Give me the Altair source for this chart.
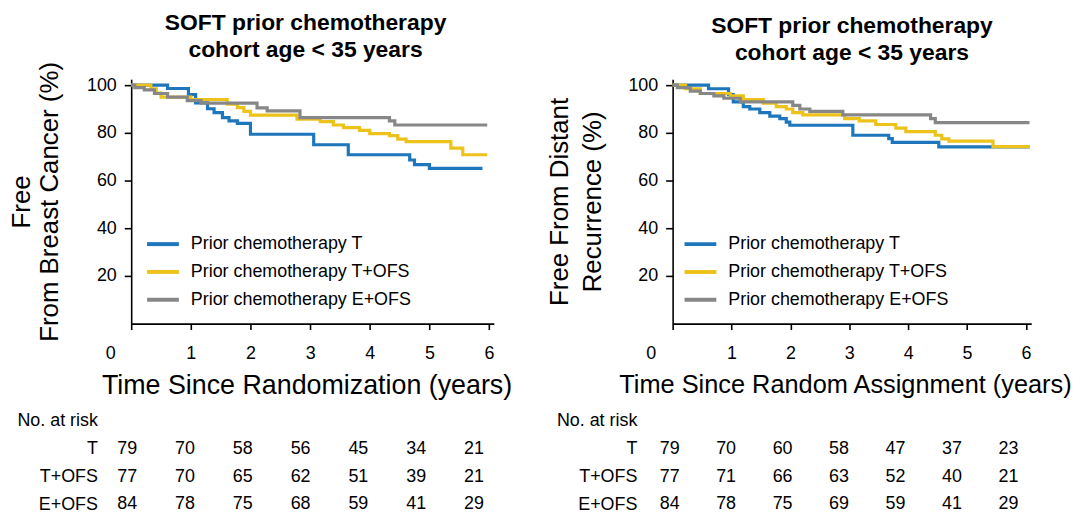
import altair as alt
import pandas as pd

FONT = "Liberation Sans, Arial, sans-serif"

GROUPS = ["Prior chemotherapy T", "Prior chemotherapy T+OFS", "Prior chemotherapy E+OFS"]
COLORS = ["#1e76bd", "#ecc21b", "#878787"]
ROWS = ["No. at risk", "T", "T+OFS", "E+OFS"]
ROW_KEYS = ["T", "T+OFS", "E+OFS"]
RISK_TIMES = [0, 1, 2, 3, 4, 5, 6]
TITLE_LINES = ["SOFT prior chemotherapy", "cohort age < 35 years"]

# ---- Left panel: free from breast cancer ----
bc_t_time = [0, 0.61, 0.96, 1.08, 1.28, 1.39, 1.53, 1.64, 1.78, 2.0, 3.06, 3.64, 4.67, 4.75, 5.0, 5.89]
bc_t_surv = [100, 98.6, 96.0, 92.6, 90.1, 88.5, 86.4, 85.0, 84.0, 79.4, 75.0, 70.8, 68.6, 66.7, 65.1, 65.1]
bc_tofs_time = [0, 0.33, 0.42, 0.5, 1.0, 1.61, 1.78, 1.89, 2.0, 2.78, 3.17, 3.39, 3.56, 3.83, 4.0, 4.33, 4.47, 4.61, 5.36, 5.56, 5.97]
bc_tofs_surv = [100, 98.5, 96.7, 95.0, 94.0, 92.0, 90.6, 89.0, 87.4, 85.7, 84.7, 83.3, 82.2, 81.0, 79.7, 78.8, 77.4, 76.3, 73.6, 70.8, 70.8]
bc_eofs_time = [0, 0.06, 0.22, 0.39, 0.61, 0.94, 1.17, 2.11, 2.28, 2.83, 4.33, 4.42, 5.97]
bc_eofs_surv = [100, 99.0, 98.0, 96.5, 95.0, 93.5, 92.5, 90.5, 89.2, 86.4, 85.0, 83.3, 83.3]
bc_risk = {
    "T": [79, 70, 58, 56, 45, 34, 21],
    "T+OFS": [77, 70, 65, 62, 51, 39, 21],
    "E+OFS": [84, 78, 75, 68, 59, 41, 29],
}

# ---- Right panel: free from distant recurrence ----
dr_t_time = [0, 0.61, 0.95, 1.03, 1.2, 1.31, 1.48, 1.65, 1.82, 1.93, 1.99, 3.06, 3.67, 3.73, 4.52, 6.06]
dr_t_surv = [100, 98.5, 96.0, 93.0, 91.0, 90.0, 88.5, 87.0, 86.0, 84.5, 83.2, 79.0, 77.6, 76.0, 74.1, 74.1]
dr_tofs_time = [0, 0.22, 0.47, 0.98, 1.2, 1.54, 1.76, 1.93, 2.04, 2.21, 2.92, 3.17, 3.45, 3.79, 3.96, 4.46, 4.57, 4.69, 5.44, 6.06]
dr_tofs_surv = [100, 98.5, 96.5, 95.5, 94.0, 92.5, 91.0, 90.0, 88.5, 87.5, 86.0, 85.0, 83.5, 82.0, 80.5, 79.0, 77.5, 76.5, 74.2, 74.2]
dr_eofs_time = [0, 0.08, 0.3, 0.47, 0.7, 0.87, 1.15, 2.04, 2.16, 2.33, 2.89, 4.38, 4.46, 6.06]
dr_eofs_surv = [100, 99.0, 97.5, 96.5, 95.5, 94.5, 93.0, 91.5, 90.0, 89.0, 87.5, 86.0, 84.3, 84.3]
dr_risk = {
    "T": [79, 70, 60, 58, 47, 37, 23],
    "T+OFS": [77, 71, 66, 63, 52, 40, 21],
    "E+OFS": [84, 78, 75, 69, 59, 41, 29],
}


def km_frame(series):
    rows = []
    for group, times, survs in series:
        for t, s in zip(times, survs):
            rows.append({"group": group, "time": t, "surv": s})
    return pd.DataFrame(rows)


def risk_frame(risk):
    rows = []
    for key in ROW_KEYS:
        for t, n in zip(RISK_TIMES, risk[key]):
            rows.append({"row": key, "time": t, "n": n})
    return pd.DataFrame(rows)


def plot(df, ytitle, xtitle, width, xmax, zero_off, title_dx, title_off, ytitle_lh, ytitle_pad,
         xtitle_size, xtitle_shift, legend_x):
    return alt.Chart(df).mark_line(interpolate="step-after", strokeWidth=3.2).encode(
        x=alt.X("time:Q",
                scale=alt.Scale(domain=[0, xmax], nice=False, zero=True),
                axis=alt.Axis(values=RISK_TIMES, title=xtitle, grid=False, labelFlush=False,
                              labelOffset=alt.condition("datum.value == 0", alt.value(zero_off), alt.value(0)),
                              tickSize=6, labelPadding=15, titlePadding=10,
                              titleX=width / 2 + xtitle_shift,
                              titleFont=FONT, titleFontSize=xtitle_size, titleFontWeight="normal")),
        y=alt.Y("surv:Q",
                scale=alt.Scale(domain=[0, 102.5], nice=False),
                axis=alt.Axis(values=[20, 40, 60, 80, 100], title=ytitle, grid=False,
                              tickSize=7, labelPadding=8, titlePadding=ytitle_pad,
                              titleFont=FONT, titleFontSize=26, titleFontWeight="normal",
                              titleLineHeight=ytitle_lh)),
        color=alt.Color("group:N",
                        scale=alt.Scale(domain=GROUPS, range=COLORS),
                        legend=alt.Legend(title=None, orient="none", legendX=legend_x, legendY=148,
                                          symbolType="stroke", symbolStrokeWidth=4, symbolSize=1024,
                                          labelFontSize=18, labelFont=FONT, labelColor="black",
                                          labelOffset=10, rowPadding=1, labelLimit=400)),
    ).properties(
        width=width, height=246,
        title=alt.TitleParams(TITLE_LINES, font=FONT, fontSize=23, fontWeight="bold",
                              lineHeight=28, offset=title_off, anchor="middle", color="black", dx=title_dx),
    )


def table(rdf, table_width, table_dx, label_pad):
    return alt.Chart(rdf).mark_text(fontSize=18, font=FONT, color="black", dx=table_dx).encode(
        x=alt.X("time:Q", scale=alt.Scale(domain=[0, 6], nice=False), axis=None),
        y=alt.Y("row:N", scale=alt.Scale(domain=ROWS, type="point", padding=0),
                axis=alt.Axis(title=None, domain=False, ticks=False, labelFontSize=18,
                              labelFont=FONT, labelColor="black", labelPadding=label_pad)),
        text="n:Q",
    ).properties(width=table_width, height=84)


left_df = km_frame([(GROUPS[0], bc_t_time, bc_t_surv), (GROUPS[1], bc_tofs_time, bc_tofs_surv),
                    (GROUPS[2], bc_eofs_time, bc_eofs_surv)])
right_df = km_frame([(GROUPS[0], dr_t_time, dr_t_surv), (GROUPS[1], dr_tofs_time, dr_tofs_surv),
                     (GROUPS[2], dr_eofs_time, dr_eofs_surv)])

plot_left = plot(left_df, ["Free", "From Breast Cancer (%)"], "Time Since Randomization (years)",
                 365, 6.08, -21, -7, -1, 28, 24, 27, -6, 14)
plot_right = plot(right_df, ["Free From Distant", "Recurrence (%)"], "Time Since Random Assignment (years)",
                  361, 6.09, -22, 0, 11, 33, 23, 25.5, -7, 10)
table_left = table(risk_frame(bc_risk), 349, -4, 34)
table_right = table(risk_frame(dr_risk), 341, -3, 36)

chart = alt.concat(
    plot_left, plot_right, table_left, table_right,
    columns=2, spacing=alt.RowColnumber(row=98, column=180), bounds="flush",
).resolve_scale(
    color="independent", x="independent", y="independent"
).resolve_legend(color="independent").properties(
    padding={"top": 2, "left": 0, "right": 0, "bottom": 0}, background="white"
).configure_view(stroke=None).configure_axis(
    domainColor="black", domainWidth=1.6, tickColor="black", tickWidth=1.6,
    labelColor="black", labelFont=FONT, labelFontSize=18, titleColor="black"
)

chart.save("out.html", embed_options={"renderer": "svg", "actions": False})
